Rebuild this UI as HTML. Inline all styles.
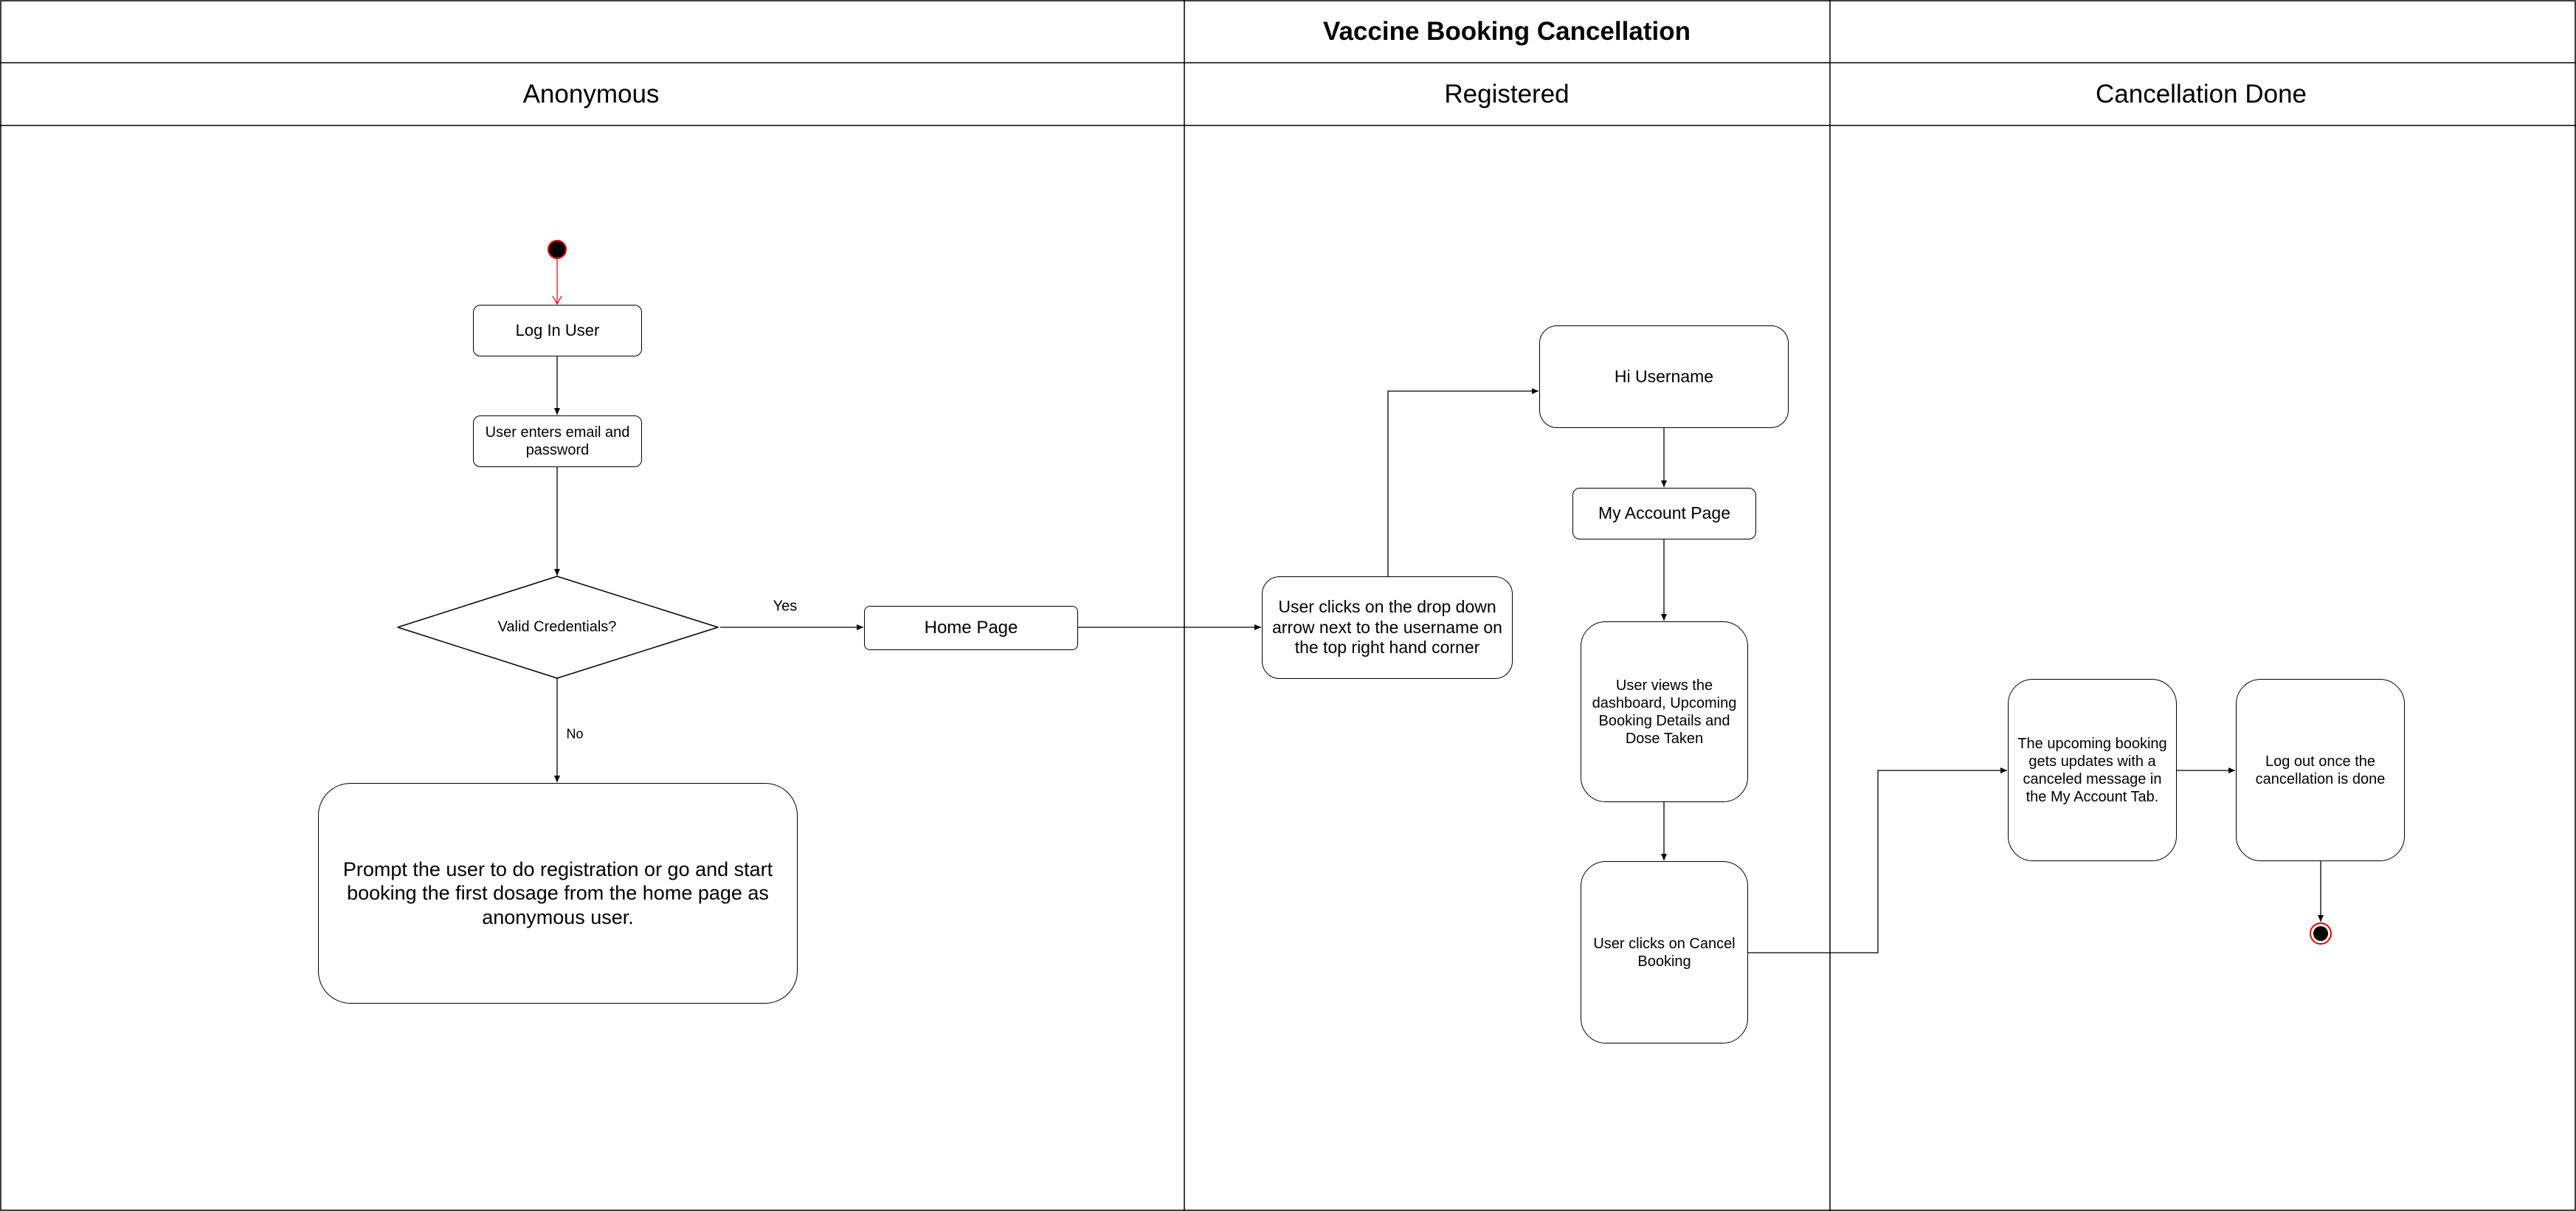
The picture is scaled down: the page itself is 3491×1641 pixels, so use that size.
<!DOCTYPE html>
<html><head><meta charset="utf-8"><style>
html,body{margin:0;padding:0;background:#fff}
#c{position:relative;width:3491px;height:1641px;overflow:hidden;font-family:"Liberation Sans",Arial,sans-serif;color:#000}
.b{position:absolute;box-sizing:border-box;border:1.5px solid #000;background:#fff;display:flex;align-items:center;justify-content:center;text-align:center;line-height:1.2}
.t{position:absolute;white-space:nowrap;transform:translate(-50%,-50%)}
svg{position:absolute;left:0;top:0}
</style></head><body><div id="c">
<svg width="3491" height="1641">
<defs><marker id="a" markerWidth="10" markerHeight="10" refX="9" refY="5" orient="auto" markerUnits="userSpaceOnUse"><path d="M0,1 L9,5 L0,9 Z" fill="#000"/></marker>
<marker id="r" markerWidth="14" markerHeight="14" refX="12" refY="7" orient="auto" markerUnits="userSpaceOnUse"><path d="M1,1 L12,7 L1,13" fill="none" stroke="#e00" stroke-width="1.2"/></marker></defs>
<rect x="1" y="1" width="3489" height="1639" fill="none" stroke="#000" stroke-width="1.5"/>
<line x1="0" y1="85" x2="3491" y2="85" stroke="#000" stroke-width="1.5"/>
<line x1="0" y1="170" x2="3491" y2="170" stroke="#000" stroke-width="1.5"/>
<line x1="1605" y1="0" x2="1605" y2="1641" stroke="#000" stroke-width="1.5"/>
<line x1="2480" y1="0" x2="2480" y2="1641" stroke="#000" stroke-width="1.5"/>
<circle cx="755" cy="338" r="12" fill="#000" stroke="#e00" stroke-width="2"/>
<line x1="755" y1="350" x2="755" y2="412" stroke="#e00" stroke-width="1.2" marker-end="url(#r)"/>
<g stroke="#000" stroke-width="1.3" fill="none">
<line x1="755" y1="483" x2="755" y2="562" marker-end="url(#a)"/>
<line x1="755" y1="633" x2="755" y2="780" marker-end="url(#a)"/>
<line x1="755" y1="919" x2="755" y2="1060" marker-end="url(#a)"/>
<line x1="976" y1="850" x2="1170" y2="850" marker-end="url(#a)"/>
<line x1="1460" y1="850" x2="1709" y2="850" marker-end="url(#a)"/>
<polyline points="1881,781 1881,530 2085,530" marker-end="url(#a)"/>
<line x1="2255" y1="579" x2="2255" y2="660" marker-end="url(#a)"/>
<line x1="2255" y1="730" x2="2255" y2="841" marker-end="url(#a)"/>
<line x1="2255" y1="1086" x2="2255" y2="1166" marker-end="url(#a)"/>
<polyline points="2369,1291 2545,1291 2545,1044 2720,1044" marker-end="url(#a)"/>
<line x1="2950" y1="1044" x2="3029" y2="1044" marker-end="url(#a)"/>
<line x1="3145" y1="1167" x2="3145" y2="1249" marker-end="url(#a)"/>
</g>
<path d="M755,781 L973,850 L755,919 L539,850 Z" fill="#fff" stroke="#000" stroke-width="1.5" stroke-linejoin="round"/>
<circle cx="3145" cy="1265" r="14" fill="#fff" stroke="#e00" stroke-width="2"/>
<circle cx="3145" cy="1265" r="10" fill="#000"/>
</svg>
<div class="t" style="left:2042px;top:43px;font-size:35px;font-weight:bold">Vaccine Booking Cancellation</div>
<div class="t" style="left:801px;top:128px;font-size:35px">Anonymous</div>
<div class="t" style="left:2042px;top:128px;font-size:35px">Registered</div>
<div class="t" style="left:2983px;top:128px;font-size:35px">Cancellation Done</div>
<div class="b" style="left:641px;top:413px;width:229px;height:70px;border-radius:10px;font-size:22px">Log In User</div>
<div class="b" style="left:641px;top:563px;width:229px;height:70px;border-radius:10px;font-size:20px">User enters email and password</div>
<div class="t" style="left:755px;top:850px;font-size:20px">Valid Credentials?</div>
<div class="t" style="left:1064px;top:822px;font-size:20px">Yes</div>
<div class="t" style="left:779px;top:995px;font-size:18px">No</div>
<div class="b" style="left:1171px;top:821px;width:290px;height:60px;border-radius:8px;font-size:24px">Home Page</div>
<div class="b" style="left:431px;top:1061px;width:650px;height:299px;border-radius:44px;font-size:27px;padding:0 24px">Prompt the user to do registration or go and start booking the first dosage from the home page as anonymous user.</div>
<div class="b" style="left:1710px;top:781px;width:340px;height:139px;border-radius:24px;font-size:23px;padding:0 8px">User clicks on the drop down arrow next to the username on the top right hand corner</div>
<div class="b" style="left:2086px;top:441px;width:338px;height:139px;border-radius:24px;font-size:23px">Hi Username</div>
<div class="b" style="left:2131px;top:661px;width:249px;height:70px;border-radius:10px;font-size:23px">My Account Page</div>
<div class="b" style="left:2142px;top:842px;width:227px;height:245px;border-radius:34px;font-size:20px;padding:0 8px">User views the dashboard, Upcoming Booking Details and Dose Taken</div>
<div class="b" style="left:2142px;top:1167px;width:227px;height:247px;border-radius:34px;font-size:20px;padding:0 4px">User clicks on Cancel Booking</div>
<div class="b" style="left:2721px;top:920px;width:229px;height:247px;border-radius:34px;font-size:20px;padding:0 6px">The upcoming booking gets updates with a canceled message in the My Account Tab.</div>
<div class="b" style="left:3030px;top:920px;width:229px;height:247px;border-radius:34px;font-size:20px;padding:0 8px">Log out once the cancellation is done</div>
</div></body></html>
